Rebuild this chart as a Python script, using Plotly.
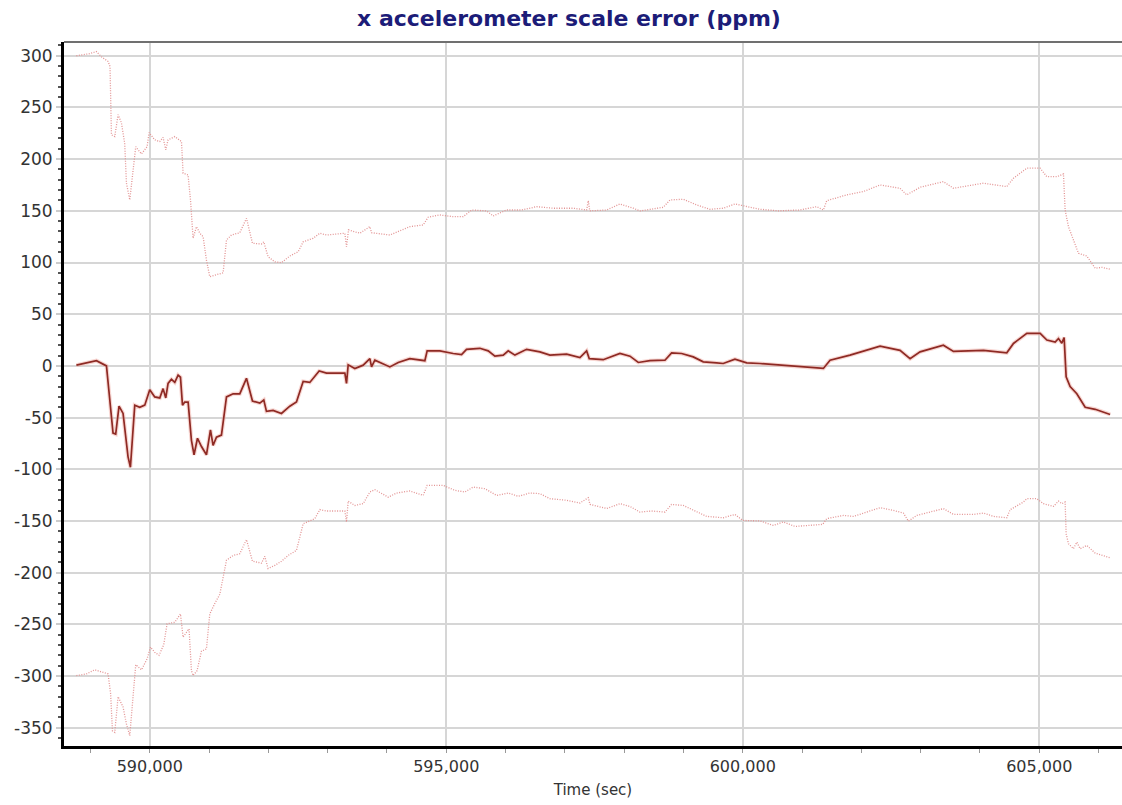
import plotly.graph_objects as go

# ---- data (time in seconds, values in ppm) ----
t_mid = [588763, 589101, 589270, 589354, 589381, 589426, 589482, 589550, 589607, 589634,
         589674, 589747, 589831, 589916, 590000, 590084, 590169, 590225, 590270, 590309,
         590366, 590422, 590478, 590518, 590552, 590590, 590647, 590703, 590747, 590805,
         590872, 590956, 591024, 591068, 591125, 591209, 591294, 591406, 591518, 591631,
         591732, 591856, 591923, 591968, 592080, 592221, 592362, 592474, 592587, 592699,
         592857, 592981, 593290, 593318, 593346, 593458, 593599, 593712, 593740, 593796,
         594049, 594190, 594386, 594639, 594678, 594892, 595117, 595258, 595342, 595567,
         595707, 595820, 595961, 596045, 596158, 596355, 596579, 596748, 597030, 597254,
         597367, 597411, 597647, 597929, 598098, 598238, 598435, 598688, 598800, 598969,
         599165, 599334, 599559, 599671, 599868, 600066, 600290, 600600, 600966, 601359,
         601472, 601809, 602315, 602652, 602821, 602990, 603383, 603553, 604059, 604452,
         604565, 604790, 605015, 605128, 605268, 605324, 605380, 605419, 605453, 605520,
         605633, 605774, 605943, 606110, 606195]
v_mid = [0.7, 5, 0, -46, -65, -66, -39, -46, -72, -88,
         -98, -38, -40, -38, -23, -30, -31, -22, -31, -17,
         -13, -16, -9, -11, -38, -35, -35, -72, -86, -70,
         -78, -86, -62, -77, -69, -67, -30, -27, -27, -12,
         -34, -36, -33, -44, -43, -46, -39, -35, -15, -16,
         -5, -7, -7, -17, 1, -2.5, 0.7, 7, -1, 5.5,
         -1, 3.3, 7, 5, 14.5, 14.5, 12, 11, 16, 17,
         14.5, 9.4, 10.4, 14.5, 10.4, 16, 13.6, 10.4, 11.3, 8,
         14.5, 7, 6, 12, 9.4, 3.3, 5, 5.5, 12.6, 12,
         8.7, 3.9, 2.9, 2.3, 6.5, 2.9, 2.3, 1, -1, -2.5,
         5.5, 10.4, 19, 15, 7, 13.6, 20, 14, 15, 12.6,
         21.7, 31.4, 31.4, 25, 23, 26.5, 22, 27.5, -10.6, -20,
         -27, -40, -42, -45, -47]

t_up = [588763, 588988, 589101, 589185, 589297, 589330, 589354, 589410, 589466, 589523,
        589578, 589607, 589663, 589719, 589764, 589860, 589955, 589989, 590084, 590169,
        590225, 590270, 590309, 590422, 590495, 590535, 590562, 590646, 590687, 590731,
        590788, 590844, 590900, 590956, 591012, 591125, 591237, 591294, 591378, 591518,
        591631, 591732, 591884, 591923, 591995, 592109, 592221, 592362, 592502, 592587,
        592755, 592868, 592981, 593290, 593318, 593352, 593543, 593712, 593740, 594049,
        594386, 594611, 594695, 594892, 595117, 595286, 595427, 595680, 595791, 596017,
        596270, 596523, 596804, 597142, 597367, 597395, 597420, 597705, 597929, 598154,
        598266, 598660, 598772, 598997, 599222, 599447, 599671, 599868, 600066, 600290,
        600600, 600966, 601247, 601359, 601416, 601753, 602033, 602315, 602652, 602765,
        602990, 603383, 603553, 604059, 604452, 604565, 604790, 605015, 605128, 605300,
        605408, 605436, 605492, 605605, 605661, 605802, 605943, 606056, 606196]
v_up = [300, 302, 304, 299, 294.5, 289.6, 223.5, 221.8, 243, 235,
        215, 176.7, 160.6, 192.8, 212, 205, 212, 225.7, 218.6, 217,
        221, 209, 218.6, 221.8, 218.6, 217, 186.4, 184.7, 160.5, 123.4,
        134.7, 128.3, 125, 102.4, 86.3, 88, 90, 121.8, 126.6, 128.8,
        142.8, 118.6, 117.9, 120, 105.6, 100.7, 99.8, 106.3, 110.4, 120,
        123.4, 128.3, 126.6, 128.3, 115.3, 131.5, 128.3, 134.7, 128.8, 126.6,
        134.7, 136.3, 143.8, 146, 144.3, 144.3, 150.8, 149.9, 145, 150.8,
        150.8, 154, 152.5, 152.5, 150.8, 159.8, 150, 150.8, 156.6, 152.5,
        149.9, 153.4, 160.5, 161.2, 155.7, 151.5, 152.5, 156.6, 154, 151.5,
        150, 150.8, 154, 150.8, 159.8, 165.4, 168.6, 175, 171.8, 165.4,
        172.8, 178.2, 171.8, 176.7, 173.4, 181.5, 191.2, 191.2, 183, 183,
        185.7, 150.8, 134.7, 118.6, 108.9, 106.3, 94.4, 95.3, 93.4]

t_lo = [588763, 588932, 589072, 589185, 589297, 589340, 589371, 589410, 589466, 589550,
        589607, 589663, 589719, 589764, 589860, 589955, 590012, 590084, 590157, 590236,
        590292, 590422, 590518, 590562, 590619, 590663, 590703, 590731, 590798, 590872,
        590956, 591012, 591096, 591181, 591294, 591406, 591518, 591631, 591732, 591884,
        591940, 591995, 592109, 592221, 592333, 592474, 592587, 592784, 592868, 592981,
        593290, 593318, 593346, 593458, 593599, 593712, 593796, 594021, 594162, 594386,
        594611, 594678, 594948, 595145, 595314, 595454, 595651, 595848, 596045, 596214,
        596411, 596579, 596748, 597030, 597254, 597395, 597423, 597705, 597929, 598098,
        598266, 598463, 598688, 598800, 598997, 599222, 599391, 599671, 599868, 600000,
        600290, 600515, 600684, 600881, 601078, 601348, 601416, 601697, 601866, 602033,
        602315, 602540, 602709, 602793, 602934, 603159, 603383, 603553, 603890, 604059,
        604228, 604452, 604508, 604733, 604790, 604958, 605071, 605240, 605324, 605380,
        605436, 605453, 605492, 605576, 605633, 605689, 605802, 605943, 606140, 606196]
v_lo = [-299.6, -298, -294, -295.7, -298, -317, -353, -354.5, -320, -330,
        -346.4, -357.7, -323.8, -289, -294, -283.5, -272, -277, -280, -269.6,
        -249.5, -248, -240, -262.5, -257.7, -254.4, -294.8, -299.6, -294.8, -276,
        -273.8, -240, -230, -221, -188, -183.4, -181.7, -168, -189, -190.8,
        -184.3, -196, -193, -189, -183.4, -178.5, -152.7, -147.8, -139, -140.4,
        -140.4, -151, -130.8, -135, -133.3, -122, -119.7, -127, -123, -121,
        -125.3, -115.6, -115.6, -120.4, -122, -117.2, -118.8, -125.3, -123, -126.2,
        -123, -123.6, -128.5, -130, -132.7, -127.5, -134, -138, -133.3, -136,
        -141.4, -140.4, -141.4, -134, -135, -141.4, -145.6, -146.9, -143.7, -149.5,
        -150, -154.3, -151, -155.3, -154.3, -153.3, -147.8, -144.6, -145.6, -142.4,
        -137.2, -139.8, -142.4, -150.2, -144.6, -141.4, -138.1, -143.7, -143.7, -142.4,
        -145.6, -146.9, -139.1, -131.7, -128.5, -128.5, -133.3, -135.9, -130.8, -133.3,
        -131.7, -162.4, -172, -176.9, -170.5, -176.9, -173.7, -181.1, -185, -185.6]

x_ticks = [590000, 595000, 600000, 605000]
x_labels = ["590,000", "595,000", "600,000", "605,000"]
y_ticks = [300, 250, 200, 150, 100, 50, 0, -50, -100, -150, -200, -250, -300, -350]
y_labels = [str(v) for v in y_ticks]

title_text = "x accelerometer scale error (ppm)"
x_title = "Time (sec)"

FONT = "DejaVu Sans"

fig = go.Figure()
fig.add_trace(go.Scatter(x=t_up, y=v_up, mode="lines",
                         line=dict(color="#e39494", width=1.3, dash="1px,1.5px"),
                         showlegend=False, hoverinfo="skip"))
fig.add_trace(go.Scatter(x=t_lo, y=v_lo, mode="lines",
                         line=dict(color="#e39494", width=1.3, dash="1px,1.5px"),
                         showlegend=False, hoverinfo="skip"))
fig.add_trace(go.Scatter(x=t_mid, y=v_mid, mode="lines",
                         line=dict(color="#f2b0a8", width=4),
                         opacity=0.5, showlegend=False, hoverinfo="skip"))
fig.add_trace(go.Scatter(x=t_mid, y=v_mid, mode="lines",
                         line=dict(color="#8e2a24", width=1.7),
                         showlegend=False))

fig.update_layout(
    width=1122, height=805,
    margin=dict(l=64, r=0, t=42, b=59),
    paper_bgcolor="white", plot_bgcolor="white",
    font=dict(family=FONT, size=16, color="#333333"),
    title=dict(text="<b>" + title_text + "</b>", x=569 / 1122, xanchor="center",
               xref="container", y=1 - 18 / 805, yanchor="middle", yref="container",
               font=dict(family=FONT, size=22, color="#1c1c78")),
    showlegend=False,
)

fig.update_xaxes(
    range=[588554, 606395],
    tickvals=x_ticks, ticktext=x_labels,
    showgrid=True, gridcolor="#d6d6d6", gridwidth=2,
    zeroline=False,
    showline=True, linecolor="black", linewidth=3,
    ticks="outside", ticklen=4, tickcolor="#999999", tickwidth=1,
    minor=dict(tick0=0, dtick=1000, ticks="outside", ticklen=4, tickcolor="#999999",
               showgrid=False),
    tickfont=dict(size=16, color="#333333"),
    title=dict(text=x_title, font=dict(size=15, color="#333333"), standoff=10),
)
fig.update_yaxes(
    range=[-367.7, 313.3],
    tickvals=y_ticks, ticktext=y_labels,
    showgrid=True, gridcolor="#d6d6d6", gridwidth=2,
    zeroline=False,
    showline=True, linecolor="black", linewidth=3,
    ticks="outside", ticklen=5, tickcolor="#cccccc", tickwidth=2,
    minor=dict(tick0=0, dtick=10, ticks="outside", ticklen=3, tickcolor="#555555",
               showgrid=False),
    tickfont=dict(size=17, color="#333333"),
)

fig.add_shape(type="line", xref="paper", yref="paper", x0=0, x1=1, y0=1, y1=1,
              line=dict(color="#707070", width=2))

fig.write_html("out.html", config={"displayModeBar": False},
               post_script="document.body.style.margin='0';document.body.style.overflow='hidden';")
